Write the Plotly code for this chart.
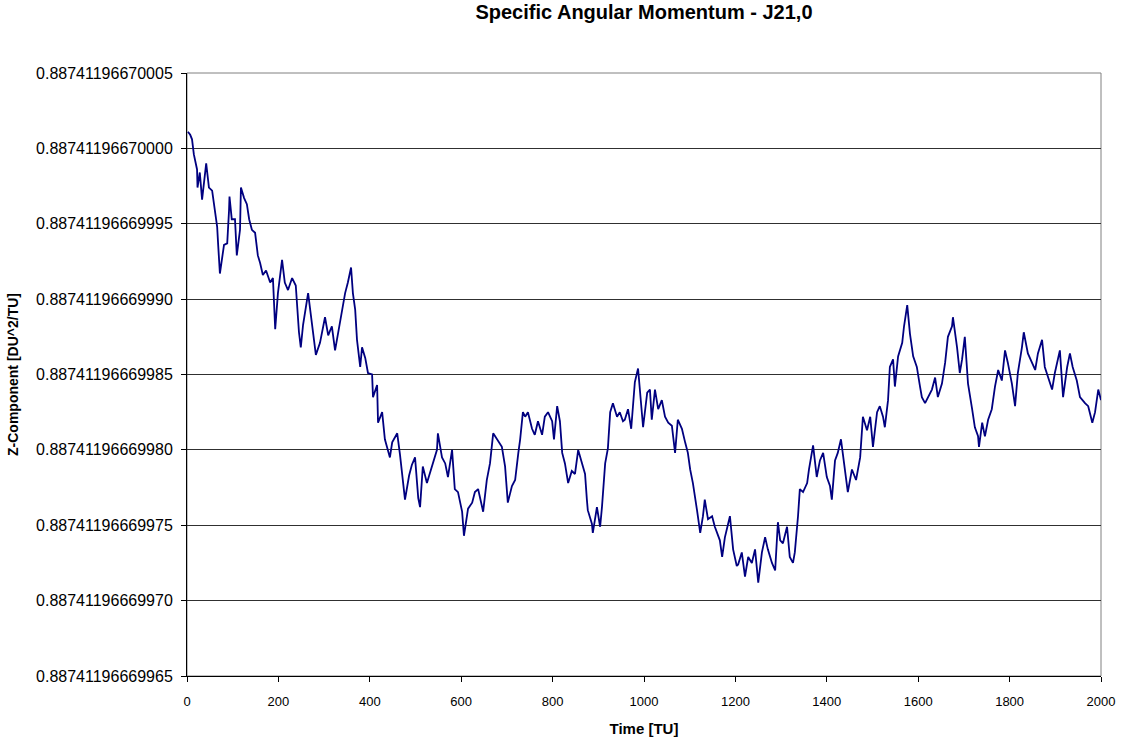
import plotly.graph_objects as go

# Values are offsets from 0.887411966699 in units of 1e-14
time_tu = [2, 7, 11, 15, 22, 23, 28, 33, 42, 48, 55, 59, 66, 68, 72, 81, 88, 92, 93, 98,
           105, 109, 116, 118, 125, 131, 136, 142, 149, 155, 160, 166, 173, 182, 188, 193, 199,
           208, 214, 221, 230, 238, 245, 249, 254, 265, 274, 282, 291, 302, 309, 317, 324, 330,
           339, 346, 352, 359, 363, 368, 372, 379, 383, 390, 396, 405, 407, 416, 418, 427, 433,
           444, 449, 460, 466, 473, 477, 486, 492, 499, 506, 510, 516, 525, 532, 538, 547, 549,
           558, 565, 571, 580, 586, 593, 602, 606, 615, 624, 630, 637, 648, 656, 663, 670, 681,
           689, 696, 702, 711, 718, 725, 729, 735, 740, 746, 755, 761, 768, 777, 783, 790, 799,
           803, 810, 816, 821, 827, 834, 842, 849, 856, 864, 871, 875, 877, 886, 888, 897, 904,
           908, 915, 921, 926, 932, 941, 947, 954, 958, 965, 972, 980, 987, 991, 998, 1007, 1013,
           1017, 1024, 1031, 1039, 1046, 1053, 1061, 1068, 1074, 1083, 1090, 1096, 1101, 1107,
           1116, 1123, 1129, 1133, 1140, 1149, 1155, 1166, 1171, 1177, 1188, 1195, 1203, 1206,
           1214, 1221, 1228, 1236, 1243, 1250, 1258, 1265, 1271, 1280, 1287, 1293, 1298, 1304,
           1313, 1319, 1326, 1330, 1337, 1341, 1348, 1357, 1361, 1365, 1370, 1378, 1385, 1392,
           1400, 1407, 1411, 1418, 1424, 1431, 1440, 1446, 1455, 1464, 1473, 1479, 1488, 1495,
           1501, 1510, 1516, 1523, 1527, 1534, 1538, 1545, 1549, 1556, 1565, 1569, 1576, 1582,
           1589, 1597, 1604, 1608, 1615, 1621, 1630, 1637, 1643, 1652, 1659, 1665, 1674, 1676,
           1685, 1691, 1696, 1702, 1709, 1718, 1724, 1731, 1733, 1740, 1746, 1753, 1761, 1768,
           1775, 1783, 1790, 1796, 1805, 1812, 1818, 1827, 1831, 1840, 1849, 1856, 1862, 1871,
           1877, 1884, 1893, 1899, 1910, 1917, 1926, 1932, 1938, 1947, 1954, 1965, 1972, 1981,
           1987, 1994, 2000]

hz_offset = [101.1, 100.9, 100.6, 99.6, 98.6, 97.4, 98.4, 96.6, 99.0, 97.4, 97.2, 96.3, 94.8,
             93.7, 91.7, 93.6, 93.7, 95.9, 96.8, 95.3, 95.3, 92.9, 94.6, 97.4, 96.7, 96.3, 95.3,
             94.6, 94.4, 92.9, 92.4, 91.6, 91.9, 91.1, 91.4, 88.0, 90.4, 92.6, 91.1, 90.6, 91.4,
             90.9, 87.8, 86.8, 88.3, 90.4, 88.0, 86.3, 87.1, 88.8, 87.6, 88.2, 86.6, 87.6, 89.0,
             90.4, 91.1, 92.1, 90.4, 89.3, 87.3, 85.5, 86.8, 86.1, 85.1, 85.0, 83.5, 84.3, 81.8,
             82.5, 80.7, 79.5, 80.5, 81.1, 79.7, 77.8, 76.7, 78.3, 79.0, 79.5, 76.8, 76.2, 78.9,
             77.8, 78.5, 79.1, 80.0, 81.1, 79.5, 79.1, 78.2, 80.0, 77.4, 77.2, 75.9, 74.3, 76.1,
             76.5, 77.2, 77.4, 75.9, 78.0, 79.1, 81.1, 80.6, 80.2, 78.9, 76.5, 77.6, 78.0, 79.8,
             80.7, 82.5, 82.2, 82.5, 81.4, 81.0, 81.9, 81.0, 82.2, 82.5, 81.9, 80.7, 82.9, 81.9,
             79.8, 79.1, 77.8, 78.6, 78.4, 80.0, 79.1, 78.4, 76.7, 76.0, 75.1, 74.5, 76.2, 74.9,
             76.2, 79.1, 80.1, 82.5, 83.1, 82.2, 82.5, 81.9, 82.0, 82.7, 81.4, 84.5, 85.4, 83.8,
             81.5, 83.8, 84.0, 82.0, 84.0, 82.7, 83.3, 82.2, 81.8, 81.6, 79.8, 82.0, 81.4, 80.5,
             79.8, 78.7, 77.8, 76.0, 74.5, 75.6, 76.7, 75.4, 75.6, 74.9, 74.0, 72.9, 74.2, 75.6,
             73.4, 72.3, 72.4, 73.2, 71.6, 72.9, 72.5, 73.4, 71.2, 73.2, 74.2, 73.4, 72.5, 72.0,
             75.2, 74.0, 73.8, 74.9, 72.9, 72.5, 73.2, 75.6, 77.4, 77.2, 77.8, 78.7, 79.5, 80.3,
             78.2, 79.3, 79.8, 78.2, 77.6, 76.7, 79.3, 79.8, 80.7, 78.7, 77.2, 78.7, 78.0, 79.5,
             82.2, 81.3, 82.2, 80.2, 82.5, 82.9, 82.2, 81.5, 83.3, 85.5, 86.0, 84.2, 86.2, 87.1,
             88.2, 89.6, 87.7, 86.2, 85.5, 84.2, 83.5, 83.1, 83.5, 84.0, 84.8, 83.5, 84.4, 85.8,
             87.5, 88.2, 88.8, 86.8, 85.1, 86.0, 87.5, 84.4, 82.7, 81.5, 80.9, 80.2, 81.8, 80.9,
             82.0, 82.7, 84.2, 85.3, 84.6, 86.6, 85.8, 84.4, 82.9, 85.1, 86.8, 87.8, 86.4, 85.8,
             85.3, 86.4, 87.3, 85.5, 84.8, 84.0, 85.1, 86.6, 83.5, 85.5, 86.4, 85.5, 84.6, 83.5,
             83.1, 82.9, 81.8, 82.5, 84.0, 83.3]

y_tick_vals = [65, 70, 75, 80, 85, 90, 95, 100, 105]
y_tick_text = ["0.88741196669965", "0.88741196669970", "0.88741196669975",
               "0.88741196669980", "0.88741196669985", "0.88741196669990",
               "0.88741196669995", "0.88741196670000", "0.88741196670005"]
x_tick_vals = [0, 200, 400, 600, 800, 1000, 1200, 1400, 1600, 1800, 2000]

title_text = "Specific Angular Momentum - J21,0"
x_title = "Time [TU]"
y_title = "Z-Component [DU^2/TU]"

FONT = "Arial, 'Liberation Sans', sans-serif"

fig = go.Figure()
fig.add_trace(go.Scatter(
    x=time_tu, y=hz_offset, mode="lines",
    line=dict(color="#000080", width=1.8),
    hoverinfo="x+y", showlegend=False,
))

fig.update_layout(
    width=1122, height=742,
    margin=dict(l=187, r=21, t=73, b=66),
    paper_bgcolor="white", plot_bgcolor="white",
    font=dict(family=FONT, color="black"),
    title=dict(text="<b>" + title_text + "</b>", x=0.5, xanchor="center",
               xref="paper", yref="container",
               y=1 - 12 / 742, yanchor="middle", automargin=False,
               font=dict(size=20, family=FONT, color="black")),
    xaxis=dict(
        range=[0, 2000], tickvals=x_tick_vals, ticks="outside", ticklen=5,
        tickcolor="black", showgrid=False, showline=True, linecolor="black",
        linewidth=1, zeroline=False, tickfont=dict(size=13, family=FONT),
        ticklabelstandoff=8, automargin=False,
        title=dict(text="<b>" + x_title + "</b>", font=dict(size=15, family=FONT),
                   standoff=15),
    ),
    yaxis=dict(
        range=[65, 105], tickvals=y_tick_vals, ticktext=y_tick_text,
        ticks="outside", ticklen=5, tickcolor="black",
        showgrid=True, gridcolor="#303030", gridwidth=1,
        showline=True, linecolor="black", linewidth=1, zeroline=False,
        tickfont=dict(size=16, family=FONT),
        ticklabelstandoff=5, automargin=False,
        title=dict(text="<b>" + y_title + "</b>", font=dict(size=14, family=FONT),
                   standoff=14),
    ),
    shapes=[dict(type="rect", xref="paper", yref="paper", x0=0, x1=1, y0=0, y1=1,
                 line=dict(color="#808080", width=1), layer="below")],
)

fig.write_html("out.html", config={"displayModeBar": False},
               post_script="document.body.style.margin='0';")
